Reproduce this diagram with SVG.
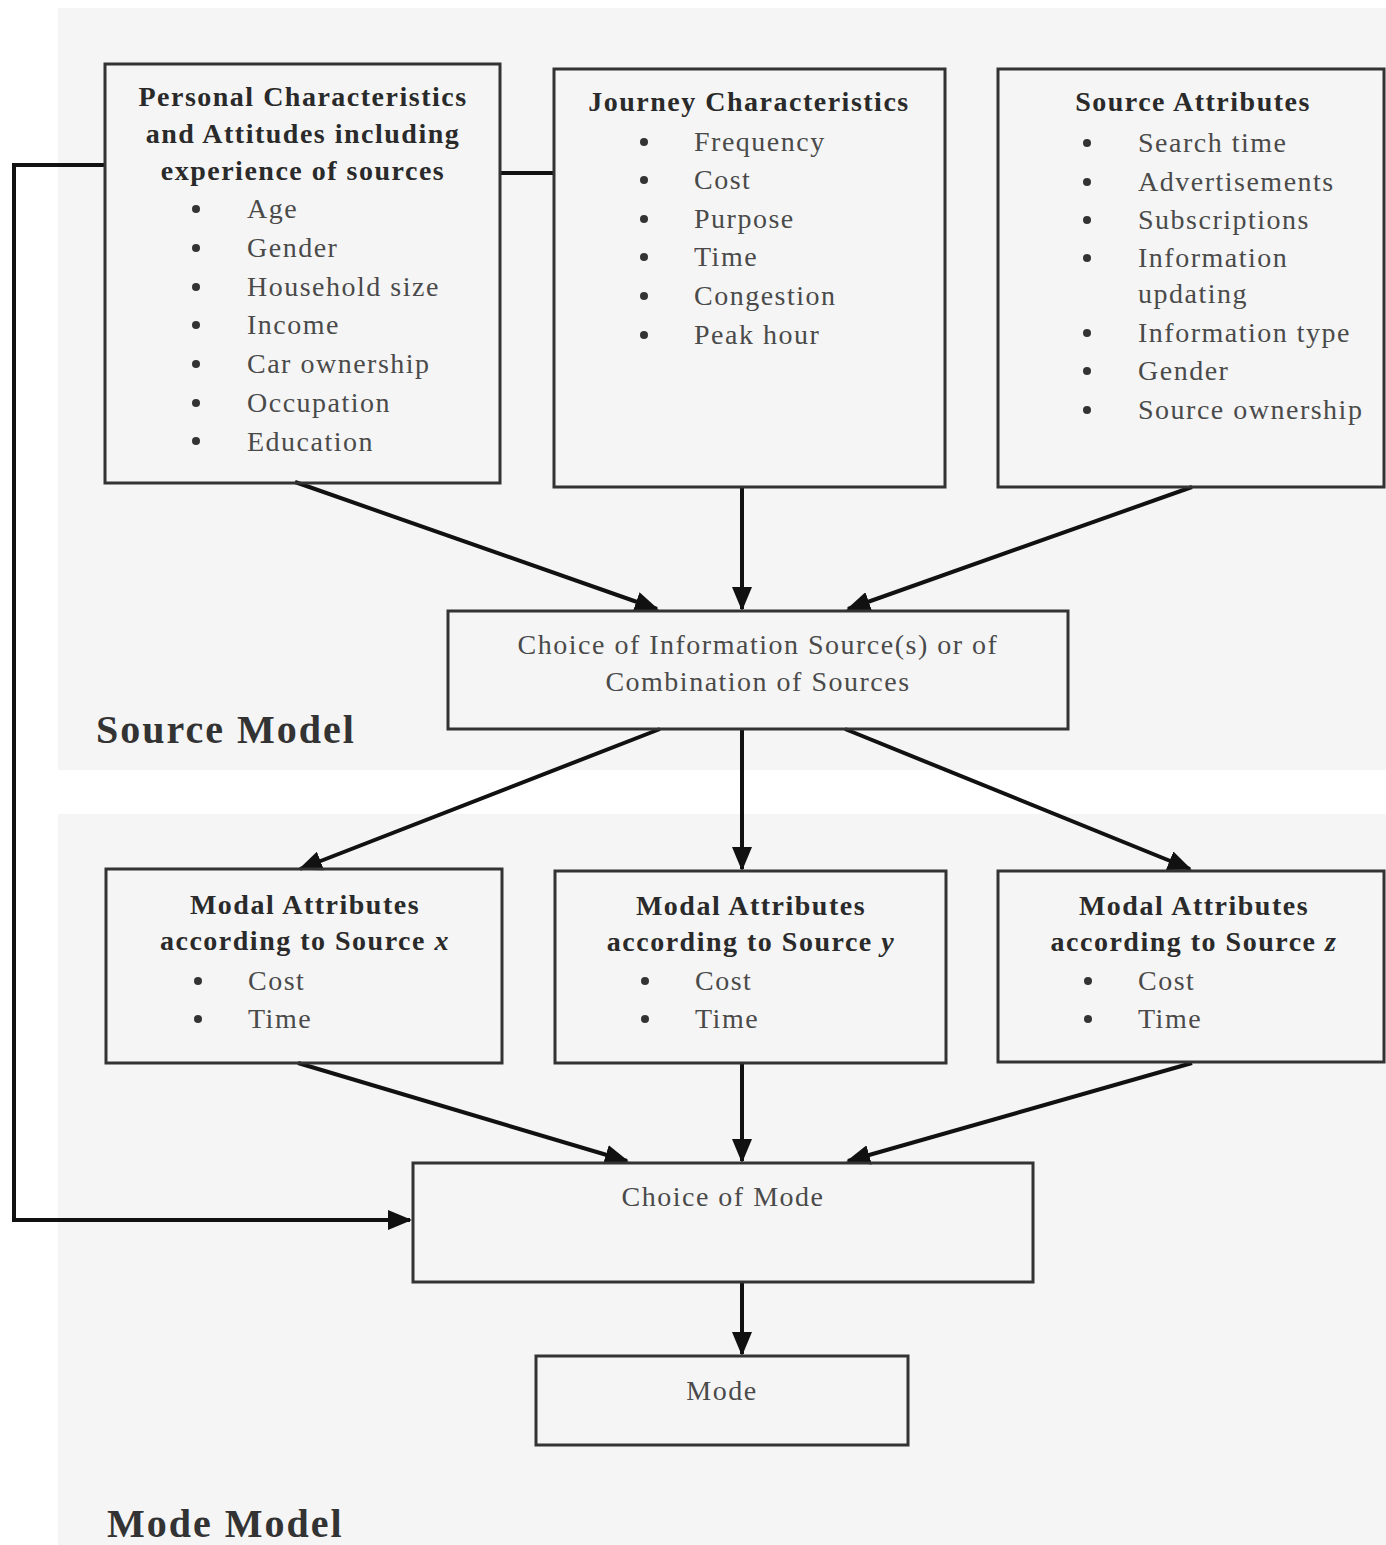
<svg xmlns="http://www.w3.org/2000/svg" width="1386" height="1545" viewBox="0 0 1386 1545">
<style>
.box{fill:none;stroke:#333;stroke-width:3}
.hd{font-family:"Liberation Serif",serif;font-weight:bold;font-size:28px;letter-spacing:1.5px;fill:#2a2a2a;text-anchor:middle}
.it{font-family:"Liberation Serif",serif;font-size:28px;letter-spacing:1.5px;fill:#4a4a4a}
.ct{font-family:"Liberation Serif",serif;font-size:28px;letter-spacing:1.5px;fill:#4a4a4a;text-anchor:middle}
.bl{fill:#333}
.title{font-family:"Liberation Serif",serif;font-weight:bold;font-size:40px;letter-spacing:2px;fill:#333}
.con{fill:none;stroke:#111;stroke-width:4}
</style>
<defs>
<marker id="arr" markerUnits="userSpaceOnUse" markerWidth="24" markerHeight="20" refX="22" refY="10" orient="auto">
<path d="M0,0 L24,10 L0,20 Z" fill="#111"/>
</marker>
</defs>
<rect width="1386" height="1545" fill="#ffffff"/>
<rect x="58" y="8" width="1328" height="762" fill="#f5f5f5"/>
<rect x="58" y="814" width="1328" height="731" fill="#f5f5f5"/>

<g id="connectors">
<polyline class="con" points="105,165 14,165 14,1220 410,1220" marker-end="url(#arr)"/>
<line class="con" x1="500" y1="173" x2="553" y2="173"/>
<line class="con" x1="295" y1="482" x2="657" y2="609" marker-end="url(#arr)"/>
<line class="con" x1="742" y1="487" x2="742" y2="609" marker-end="url(#arr)"/>
<line class="con" x1="1192" y1="487" x2="848" y2="609" marker-end="url(#arr)"/>
<line class="con" x1="660" y1="729" x2="300" y2="869" marker-end="url(#arr)"/>
<line class="con" x1="742" y1="729" x2="742" y2="869" marker-end="url(#arr)"/>
<line class="con" x1="845" y1="729" x2="1190" y2="869" marker-end="url(#arr)"/>
<line class="con" x1="298" y1="1063" x2="627" y2="1161" marker-end="url(#arr)"/>
<line class="con" x1="742" y1="1063" x2="742" y2="1161" marker-end="url(#arr)"/>
<line class="con" x1="1192" y1="1063" x2="848" y2="1161" marker-end="url(#arr)"/>
<line class="con" x1="742" y1="1282" x2="742" y2="1354" marker-end="url(#arr)"/>
</g>

<g id="personal">
<rect class="box" x="105" y="64" width="395" height="419"/>
<text class="hd" x="303" y="106">Personal Characteristics</text>
<text class="hd" x="303" y="143">and Attitudes including</text>
<text class="hd" x="303" y="180">experience of sources</text>
<circle class="bl" cx="196" cy="209" r="4"/><text class="it" x="247" y="218">Age</text>
<circle class="bl" cx="196" cy="248" r="4"/><text class="it" x="247" y="257">Gender</text>
<circle class="bl" cx="196" cy="287" r="4"/><text class="it" x="247" y="296">Household size</text>
<circle class="bl" cx="196" cy="325" r="4"/><text class="it" x="247" y="334">Income</text>
<circle class="bl" cx="196" cy="364" r="4"/><text class="it" x="247" y="373">Car ownership</text>
<circle class="bl" cx="196" cy="403" r="4"/><text class="it" x="247" y="412">Occupation</text>
<circle class="bl" cx="196" cy="441" r="4"/><text class="it" x="247" y="451">Education</text>
</g>

<g id="journey">
<rect class="box" x="554" y="69" width="391" height="418"/>
<text class="hd" x="749" y="111">Journey Characteristics</text>
<circle class="bl" cx="644" cy="142" r="4"/><text class="it" x="694" y="151">Frequency</text>
<circle class="bl" cx="644" cy="180" r="4"/><text class="it" x="694" y="189">Cost</text>
<circle class="bl" cx="644" cy="219" r="4"/><text class="it" x="694" y="228">Purpose</text>
<circle class="bl" cx="644" cy="257" r="4"/><text class="it" x="694" y="266">Time</text>
<circle class="bl" cx="644" cy="296" r="4"/><text class="it" x="694" y="305">Congestion</text>
<circle class="bl" cx="644" cy="335" r="4"/><text class="it" x="694" y="344">Peak hour</text>
</g>

<g id="source-attributes">
<rect class="box" x="998" y="69" width="386" height="418"/>
<text class="hd" x="1193" y="111">Source Attributes</text>
<circle class="bl" cx="1087" cy="143" r="4"/><text class="it" x="1138" y="152">Search time</text>
<circle class="bl" cx="1087" cy="182" r="4"/><text class="it" x="1138" y="191">Advertisements</text>
<circle class="bl" cx="1087" cy="220" r="4"/><text class="it" x="1138" y="229">Subscriptions</text>
<circle class="bl" cx="1087" cy="258" r="4"/><text class="it" x="1138" y="267">Information</text>
<text class="it" x="1138" y="303">updating</text>
<circle class="bl" cx="1087" cy="333" r="4"/><text class="it" x="1138" y="342">Information type</text>
<circle class="bl" cx="1087" cy="371" r="4"/><text class="it" x="1138" y="380">Gender</text>
<circle class="bl" cx="1087" cy="410" r="4"/><text class="it" x="1138" y="419">Source ownership</text>
</g>

<g id="choice-info">
<rect class="box" x="448" y="611" width="620" height="118"/>
<text class="ct" x="758" y="654">Choice of Information Source(s) or of</text>
<text class="ct" x="758" y="691">Combination of Sources</text>
</g>

<text class="title" x="96" y="743">Source Model</text>

<g id="modal-x">
<rect class="box" x="106" y="869" width="396" height="194"/>
<text class="hd" x="305" y="914">Modal Attributes</text>
<text class="hd" x="305" y="950">according to Source <tspan font-style="italic">x</tspan></text>
<circle class="bl" cx="198" cy="981" r="4"/><text class="it" x="248" y="990">Cost</text>
<circle class="bl" cx="198" cy="1019" r="4"/><text class="it" x="248" y="1028">Time</text>
</g>

<g id="modal-y">
<rect class="box" x="555" y="871" width="391" height="192"/>
<text class="hd" x="751" y="915">Modal Attributes</text>
<text class="hd" x="751" y="951">according to Source <tspan font-style="italic">y</tspan></text>
<circle class="bl" cx="645" cy="981" r="4"/><text class="it" x="695" y="990">Cost</text>
<circle class="bl" cx="645" cy="1019" r="4"/><text class="it" x="695" y="1028">Time</text>
</g>

<g id="modal-z">
<rect class="box" x="998" y="871" width="386" height="191"/>
<text class="hd" x="1194" y="915">Modal Attributes</text>
<text class="hd" x="1194" y="951">according to Source <tspan font-style="italic">z</tspan></text>
<circle class="bl" cx="1088" cy="981" r="4"/><text class="it" x="1138" y="990">Cost</text>
<circle class="bl" cx="1088" cy="1019" r="4"/><text class="it" x="1138" y="1028">Time</text>
</g>

<g id="choice-mode">
<rect class="box" x="413" y="1163" width="620" height="119"/>
<text class="ct" x="723" y="1206">Choice of Mode</text>
</g>

<g id="mode">
<rect class="box" x="536" y="1356" width="372" height="89"/>
<text class="ct" x="722" y="1400">Mode</text>
</g>

<text class="title" x="107" y="1537">Mode Model</text>
</svg>
